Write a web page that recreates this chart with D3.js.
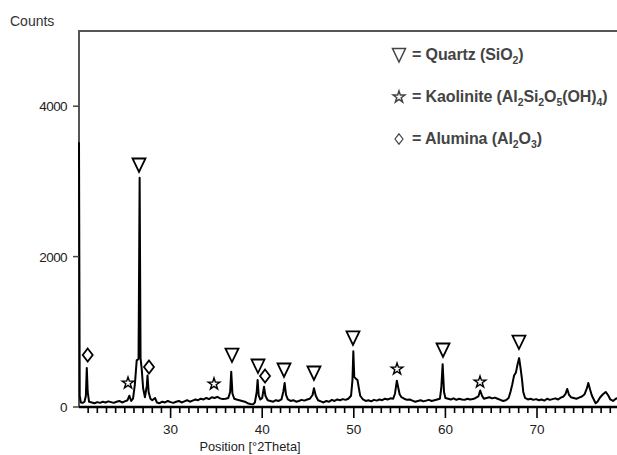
<!DOCTYPE html>
<html>
<head>
<meta charset="utf-8">
<script src="https://cdn.jsdelivr.net/npm/d3@7"></script>
<style>
  body { margin: 0; background: #fff; }
  svg { display: block; font-family: "Liberation Sans", Arial, sans-serif; }
</style>
</head>
<body>
<svg width="617" height="455"></svg>
<script>

// DATA ––––––––––––––––––––––––––––––––––––––––––––––––––––––––––––––––

var twoTheta = [20.0, 20.08, 20.2, 20.4, 20.6, 20.75, 20.85, 20.95, 21.1, 21.4, 21.7, 22.0, 22.3, 22.6, 22.9, 23.2, 23.5, 23.8, 24.1, 24.4, 24.7, 25.0, 25.3, 25.5, 25.7, 25.9,
  26.1, 26.3, 26.5, 26.62, 26.72, 26.85, 27.0, 27.2, 27.4, 27.48, 27.6, 27.8, 28.0, 28.3, 28.5, 28.8, 29.1, 29.4, 29.7, 30.0, 30.3, 30.6, 30.9, 31.2, 31.5, 31.8,
  32.1, 32.4, 32.7, 33.0, 33.3, 33.6, 33.9, 34.2, 34.5, 34.8, 35.1, 35.4, 35.7, 36.0, 36.3, 36.5, 36.62, 36.75, 36.95, 37.2, 37.5, 37.8, 38.1, 38.4, 38.7, 39.0,
  39.2, 39.4, 39.5, 39.62, 39.8, 40.0, 40.2, 40.35, 40.6, 40.9, 41.2, 41.5, 41.8, 42.1, 42.3, 42.45, 42.6, 42.8, 43.1, 43.4, 43.7, 44.0, 44.3, 44.6, 44.9, 45.2,
  45.5, 45.65, 45.85, 46.1, 46.4, 46.7, 47.0, 47.3, 47.6, 47.9, 48.2, 48.5, 48.8, 49.1, 49.4, 49.7, 49.85, 49.95, 50.05, 50.2, 50.4, 50.55, 50.7, 51.0, 51.3,
  51.6, 51.9, 52.2, 52.5, 52.8, 53.1, 53.4, 53.7, 54.0, 54.3, 54.5, 54.7, 54.85, 55.0, 55.2, 55.5, 55.8, 56.1, 56.4, 56.7, 57.0, 57.3, 57.6, 57.9, 58.2, 58.5,
  58.8, 59.1, 59.4, 59.55, 59.7, 59.85, 60.0, 60.3, 60.6, 60.9, 61.2, 61.5, 61.8, 62.1, 62.4, 62.7, 63.0, 63.3, 63.6, 63.8, 64.0, 64.2, 64.5, 64.8, 65.1, 65.4,
  65.7, 66.0, 66.3, 66.6, 66.9, 67.1, 67.3, 67.5, 67.7, 67.9, 68.05, 68.2, 68.35, 68.5, 68.7, 69.0, 69.3, 69.6, 69.9, 70.2, 70.5, 70.8, 71.1, 71.4, 71.7, 72.0,
  72.3, 72.6, 72.9, 73.1, 73.3, 73.5, 73.7, 74.0, 74.3, 74.6, 74.9, 75.2, 75.45, 75.6, 75.8, 76.0, 76.2, 76.4, 76.6, 76.9, 77.2, 77.5, 77.8, 78.0, 78.3, 78.6,
  78.9, 79.2, 79.5, 80.0];

var counts = [3520, 150, 60, 55, 70, 150, 520, 200, 70, 60, 50, 65, 55, 70, 60, 75, 65, 55, 70, 80, 60, 75, 90, 150, 80, 110,
  300, 620, 640, 3050, 650, 500, 250, 130, 280, 420, 200, 110, 90, 120, 60, 50, 70, 60, 80, 65, 55, 70, 80, 60, 75, 90,
  70, 85, 100, 90, 110, 100, 120, 105, 130, 120, 135, 115, 105, 110, 120, 200, 470, 180, 110, 100, 90, 80, 70, 50, 40, 35,
  60, 200, 360, 150, 100, 120, 270, 150, 90, 80, 70, 90, 80, 100, 200, 320, 160, 100, 80, 90, 70, 80, 95, 85, 100, 110,
  160, 250, 150, 90, 75, 60, 80, 70, 95, 80, 100, 90, 105, 95, 110, 150, 350, 740, 400, 380, 360, 250, 150, 100, 80,
  90, 75, 95, 85, 100, 90, 110, 100, 115, 110, 180, 350, 260, 170, 130, 110, 95, 100, 85, 70, 80, 90, 75, 85, 95, 80,
  90, 100, 110, 250, 570, 200, 120, 110, 100, 115, 95, 110, 100, 95, 110, 100, 105, 120, 140, 220, 150, 110, 120, 130, 115, 125,
  110, 95, 80, 90, 120, 200, 300, 420, 460, 580, 650, 520, 380, 200, 120, 100, 110, 95, 105, 90, 100, 85, 110, 95, 105, 115,
  100, 125, 140, 170, 240, 160, 130, 120, 110, 125, 140, 170, 250, 320, 230, 150, 100, 50, 70, 130, 170, 200, 150, 100, 80, 110,
  120, 100, 110, 100];

// phase markers above the peaks
var markerTheta  = [20.95, 25.35, 26.55, 27.64, 34.74, 36.7, 39.54, 40.31, 42.38, 45.65, 49.91, 54.72, 59.74, 63.78, 68.03];
var markerCounts = [691, 319, 3218, 532, 306, 691, 545, 412, 492, 452, 918, 505, 758, 332, 864];
var markerKind   = ["alumina", "kaolinite", "quartz", "alumina", "kaolinite", "quartz", "quartz", "alumina", "quartz", "quartz", "quartz", "kaolinite", "quartz", "kaolinite", "quartz"];

var yTicks = [0, 2000, 4000];
var xTicks = [30, 40, 50, 60, 70];

var legendKinds = ["quartz", "kaolinite", "alumina"];
var legendNames = ["= Quartz (SiO", "= Kaolinite (Al", "= Alumina (Al"];


// D3 ––––––––––––––––––––––––––––––––––––––––––––––––––––––––––––––––––

var svg = d3.select("svg");

var x = d3.scaleLinear().domain([20, 80]).range([79, 628.6]);
var y = d3.scaleLinear().domain([0, 5000]).range([407, 31]);

var pts = twoTheta.map(function(t, i) { return {t: t, c: counts[i]}; });

// frame: left + top lines
svg.append("path")
  .attr("d", "M" + x(20) + "," + y(0) + "V" + y(5000) + "H617")
  .attr("fill", "none")
  .attr("stroke", "#555")
  .attr("stroke-width", 2);

// spectrum
var line = d3.line()
  .x(function(d) { return x(d.t); })
  .y(function(d) { return y(d.c); });

svg.append("path")
  .datum(pts)
  .attr("fill", "none")
  .attr("stroke", "#000")
  .attr("stroke-width", 2)
  .attr("stroke-linejoin", "round")
  .attr("d", line);

// x axis: minor ticks every degree, longer at tens
var xAxis = svg.append("g").attr("transform", "translate(0," + y(0) + ")");
xAxis.append("line")
  .attr("x1", x(20)).attr("x2", 617)
  .attr("stroke", "#000").attr("stroke-width", 2.5);

xAxis.selectAll("line.tick")
  .data(d3.range(21, 80))
  .enter().append("line")
  .attr("class", "tick")
  .attr("x1", function(d) { return x(d); })
  .attr("x2", function(d) { return x(d); })
  .attr("y1", 0)
  .attr("y2", function(d) { return d % 10 === 0 ? 11 : 6; })
  .attr("stroke", "#000")
  .attr("stroke-width", 1.6);

xAxis.selectAll("text")
  .data(xTicks)
  .enter().append("text")
  .attr("x", function(d) { return x(d); })
  .attr("y", 27)
  .attr("text-anchor", "middle")
  .attr("font-size", 13.5)
  .attr("fill", "#222")
  .text(function(d) { return d; });

svg.append("text")
  .attr("x", 250).attr("y", 451)
  .attr("text-anchor", "middle")
  .attr("font-size", 12.8)
  .attr("fill", "#222")
  .text("Position [°2Theta]");

// y axis
var yAxis = svg.append("g");
yAxis.selectAll("line")
  .data(yTicks)
  .enter().append("line")
  .attr("x1", x(20) - 6).attr("x2", x(20))
  .attr("y1", function(d) { return y(d); })
  .attr("y2", function(d) { return y(d); })
  .attr("stroke", "#444").attr("stroke-width", 1.5);

yAxis.selectAll("text")
  .data(yTicks)
  .enter().append("text")
  .attr("x", 67)
  .attr("y", function(d) { return y(d) + 5; })
  .attr("text-anchor", "end")
  .attr("font-size", 13.5)
  .attr("letter-spacing", -0.6)
  .attr("fill", "#222")
  .text(function(d) { return d; });

svg.append("text")
  .attr("x", 10).attr("y", 26)
  .attr("font-size", 14)
  .attr("fill", "#333")
  .text("Counts");

// marker shapes
function markerPath(kind) {
  if (kind === "quartz") return "M-6.5,-6.5H6.5L0,7Z";
  if (kind === "alumina") return "M0,-6.5L5,0L0,6.5L-5,0Z";
  return d3.symbol().type(d3.symbolStar).size(42)();
}

svg.selectAll("path.marker")
  .data(markerTheta)
  .enter().append("path")
  .attr("class", "marker")
  .attr("transform", function(d, i) { return "translate(" + x(d) + "," + y(markerCounts[i]) + ")"; })
  .attr("d", function(d, i) { return markerPath(markerKind[i]); })
  .attr("fill", "#fff")
  .attr("stroke", "#000")
  .attr("stroke-width", function(d, i) { return markerKind[i] === "kaolinite" ? 1.4 : 1.8; })
  .attr("stroke-linejoin", "miter");

// legend
var legendSubs = [
  [["2", ")"]],
  [["2", "Si"], ["2", "O"], ["5", "(OH)"], ["4", ")"]],
  [["2", "O"], ["3", ")"]]
];

var lg = svg.append("g").attr("transform", "translate(399,55)");
legendKinds.forEach(function(k, i) {
  var row = lg.append("g").attr("transform", "translate(0," + (i * 42) + ")");
  row.append("path")
    .attr("d", markerPath(k))
    .attr("transform", k === "alumina" ? "scale(0.8)" : null)
    .attr("fill", "#fff")
    .attr("stroke", "#444")
    .attr("stroke-width", 1.5);
  var t = row.append("text")
    .attr("x", 13).attr("y", 5)
    .attr("font-size", 16)
    .attr("font-weight", "bold")
    .attr("letter-spacing", -0.1)
    .attr("fill", "#444");
  t.append("tspan").text(legendNames[i]);
  legendSubs[i].forEach(function(s) {
    t.append("tspan").attr("font-size", 10.5).attr("dy", 3.5).text(s[0]);
    t.append("tspan").attr("dy", -3.5).text(s[1]);
  });
});

</script>
</body>
</html>
